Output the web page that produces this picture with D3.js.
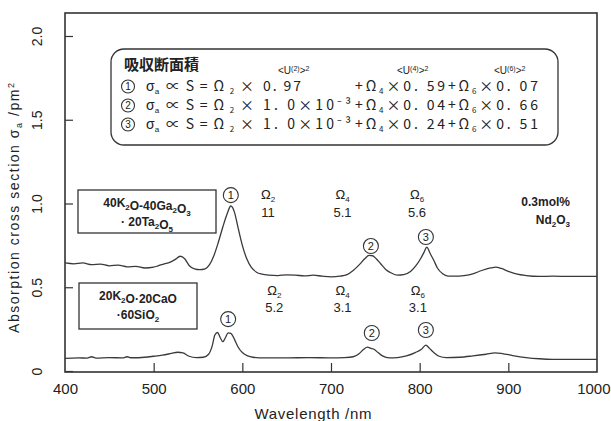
<!DOCTYPE html>
<html><head><meta charset="utf-8">
<script src="https://cdn.jsdelivr.net/npm/d3@7"></script>
<style>
html,body{margin:0;padding:0;background:#fff;}
svg{display:block;font-family:"Liberation Sans",Arial,sans-serif;}
</style></head>
<body><svg id="c" width="611" height="421"></svg>
<script>
// ---- data ----
const upperWl  = [400,410,420,430,440,450,460,470,480,490,500,505,512,518,524,530,535,540,546,552,558,563,568,573,578,583,587,591,595,600,605,610,616,622,630,640,650,660,670,680,690,700,710,718,725,732,738,743,747,751,756,762,768,775,782,790,796,801,805,808,812,816,820,826,832,840,850,860,870,880,886,892,900,910,920,935,950,970,1000];
const upperVal = [0.645,0.64,0.645,0.635,0.638,0.628,0.632,0.622,0.625,0.615,0.62,0.628,0.64,0.648,0.665,0.685,0.67,0.63,0.61,0.605,0.61,0.635,0.69,0.77,0.86,0.94,0.985,0.95,0.86,0.75,0.67,0.62,0.59,0.578,0.572,0.57,0.574,0.572,0.568,0.572,0.566,0.562,0.566,0.575,0.6,0.635,0.67,0.69,0.688,0.67,0.64,0.605,0.585,0.572,0.575,0.595,0.63,0.67,0.71,0.74,0.7,0.66,0.615,0.58,0.567,0.566,0.57,0.58,0.6,0.615,0.62,0.612,0.595,0.578,0.57,0.565,0.566,0.565,0.565];
const lowerWl  = [400,415,425,430,435,450,465,470,475,490,500,510,520,527,533,540,548,556,562,566,569,572,575,578,581,584,587,591,595,600,606,612,625,650,675,700,715,725,732,737,741,745,749,753,758,766,775,785,795,802,807,811,816,822,830,845,860,875,885,893,905,920,935,950,1000];
const lowerVal = [0.075,0.078,0.077,0.085,0.077,0.08,0.078,0.085,0.079,0.082,0.088,0.095,0.105,0.112,0.108,0.088,0.08,0.082,0.1,0.15,0.215,0.23,0.2,0.175,0.2,0.228,0.225,0.19,0.145,0.11,0.09,0.082,0.078,0.078,0.08,0.078,0.08,0.085,0.105,0.13,0.142,0.135,0.128,0.11,0.09,0.078,0.08,0.09,0.11,0.13,0.155,0.135,0.11,0.088,0.08,0.082,0.09,0.1,0.108,0.104,0.092,0.08,0.073,0.07,0.07];
const xTicks = [400,500,600,700,800,900,1000];
const yTicks = [0,0.5,1.0,1.5,2.0];
const yTickLabels = ["0","0.5","1.0","1.5","2.0"];
// peak markers (circled numbers)
const markNums = [1,2,3,1,2,3];
const markWl   = [587,745,807,584,746,807];
const markVal  = [1.05,0.746,0.80,0.31,0.227,0.245];
// Judd-Ofelt parameters
const omegaIdx = ["2","4","6"];
const omegaWlUpper = [629,713,797];
const omegaUpper   = ["11","5.1","5.6"];
const omegaWlLower = [636,713,798];
const omegaLower   = ["5.2","3.1","3.1"];
// inset rows
const rowNums = [1,2,3];
const rowCoef2 = ["0. 97","1. 0×10⁻³","1. 0×10⁻³"];
const rowCoef4 = ["0. 59","0. 04","0. 24"];
const rowCoef6 = ["0. 07","0. 66","0. 51"];

// ---- layout ----
const svg = d3.select("#c");
const L=65,R=597,T=13,B=372;
const x = d3.scaleLinear().domain([400,1000]).range([L,R]);
const y = d3.scaleLinear().domain([0,2]).range([371,36]);
const ink = "#333";
const jp = "'Noto Sans CJK JP','Liberation Sans',sans-serif";

// frame
svg.append("rect").attr("x",L).attr("y",T).attr("width",R-L).attr("height",B-T)
  .attr("fill","none").attr("stroke",ink).attr("stroke-width",1.6);

// x axis ticks (inside)
const gx = svg.append("g").attr("transform",`translate(0,${B})`)
  .call(d3.axisBottom(x).tickValues(xTicks).tickSize(-9).tickPadding(14).tickFormat(d3.format("d")));
gx.select(".domain").remove();
gx.selectAll(".tick line").attr("stroke",ink).attr("stroke-width",1.2)
  .filter(d=>d===400||d===1000).remove();
gx.selectAll("text").attr("fill","#222").attr("font-size",15).attr("dy","0.5em");
gx.selectAll(".tick").filter(d=>d===1000).select("text")
  .attr("text-anchor","end").attr("x",610-R);

// y axis ticks (inside), labels rotated
const gy = svg.append("g").attr("transform",`translate(${L},0)`)
  .call(d3.axisLeft(y).tickValues(yTicks).tickSize(-8).tickFormat((d,i)=>yTickLabels[i]));
gy.select(".domain").remove();
gy.selectAll(".tick line").attr("stroke",ink).attr("stroke-width",1.2);
gy.selectAll("text").attr("fill","#222").attr("font-size",14)
  .attr("x",null).attr("dy",null)
  .attr("text-anchor","middle")
  .attr("transform","translate(-28,0) rotate(-90)")
  .attr("dominant-baseline","central");

// axis titles
svg.append("text").attr("x",313).attr("y",419).attr("text-anchor","middle")
  .attr("font-size",15).attr("fill","#222").attr("textLength",117)
  .text("Wavelength /nm");
const yt = svg.append("text").attr("transform","translate(19,208) rotate(-90)")
  .attr("text-anchor","middle").attr("font-size",14).attr("fill","#222").attr("textLength",250);
yt.append("tspan").text("Absorption cross section σ");
yt.append("tspan").attr("font-size",9).attr("dy",3).text("a");
yt.append("tspan").attr("dy",-3).text(" /pm");
yt.append("tspan").attr("font-size",9).attr("dy",-5).text("2");

// spectra
const line = d3.line().x(d=>x(d[0])).y(d=>y(d[1])).curve(d3.curveMonotoneX);
svg.append("path").datum(d3.zip(upperWl,upperVal)).attr("d",line)
  .attr("fill","none").attr("stroke","#3a3a3a").attr("stroke-width",1.3);
svg.append("path").datum(d3.zip(lowerWl,lowerVal)).attr("d",line)
  .attr("fill","none").attr("stroke","#3a3a3a").attr("stroke-width",1.3);

// circled number helper
function circ(g,cx,cy,n,r,fs){
  g.append("circle").attr("cx",cx).attr("cy",cy).attr("r",r)
    .attr("fill","#fff").attr("stroke",ink).attr("stroke-width",1.1);
  g.append("text").attr("x",cx).attr("y",cy).attr("text-anchor","middle")
    .attr("dominant-baseline","central").attr("font-size",fs).attr("fill","#222").text(n);
}
markNums.forEach((n,i)=>circ(svg,x(markWl[i]),y(markVal[i]),n,7.5,11));

// omega labels
omegaIdx.forEach((k,i)=>{
  const t1 = svg.append("text").attr("x",x(omegaWlUpper[i])).attr("y",199).attr("text-anchor","middle")
    .attr("font-size",13).attr("fill","#222");
  t1.append("tspan").text("Ω"); t1.append("tspan").attr("font-size",8).attr("dy",3).text(k);
  svg.append("text").attr("x",x(omegaWlUpper[i])).attr("y",217).attr("text-anchor","middle")
    .attr("font-size",13).attr("fill","#222").text(omegaUpper[i]);
  const t2 = svg.append("text").attr("x",x(omegaWlLower[i])).attr("y",295).attr("text-anchor","middle")
    .attr("font-size",13).attr("fill","#222");
  t2.append("tspan").text("Ω"); t2.append("tspan").attr("font-size",8).attr("dy",3).text(k);
  svg.append("text").attr("x",x(omegaWlLower[i])).attr("y",312).attr("text-anchor","middle")
    .attr("font-size",13).attr("fill","#222").text(omegaLower[i]);
});

// concentration note
const cn = svg.append("g").attr("font-size",12).attr("font-weight","bold").attr("fill","#222");
cn.append("text").attr("x",570).attr("y",206).attr("text-anchor","end").text("0.3mol%");
const nd = cn.append("text").attr("x",570).attr("y",224).attr("text-anchor","end");
nd.append("tspan").text("Nd"); nd.append("tspan").attr("font-size",8).attr("dy",3).text("2");
nd.append("tspan").attr("dy",-3).text("O"); nd.append("tspan").attr("font-size",8).attr("dy",3).text("3");

// composition boxes
function compBox(bx,by,bw,bh,lines){
  svg.append("rect").attr("x",bx).attr("y",by).attr("width",bw).attr("height",bh)
    .attr("fill","#fff").attr("stroke",ink).attr("stroke-width",1.3);
  lines.forEach((parts,j)=>{
    const t = svg.append("text").attr("x",bx+bw/2).attr("y",by+17+j*19).attr("text-anchor","middle")
      .attr("font-size",12).attr("font-weight","bold").attr("fill","#222");
    parts.forEach(p=>{
      if(p[1]) { t.append("tspan").attr("font-size",8).attr("dy",3).text(p[0]); t.append("tspan").attr("dy",-3).text(""); }
      else t.append("tspan").text(p[0]);
    });
  });
}
compBox(78,190,138,43,[
  [["40K"],["2",1],["O-40Ga"],["2",1],["O"],["3",1]],
  [["· 20Ta"],["2",1],["O"],["5",1]]
]);
compBox(79,283,118,46,[
  [["20K"],["2",1],["O·20CaO"]],
  [["·60SiO"],["2",1]]
]);

// inset equation box
svg.append("rect").attr("x",111).attr("y",49).attr("width",447).attr("height",96)
  .attr("rx",13).attr("fill","#fff").attr("stroke",ink).attr("stroke-width",1.3);
svg.append("text").attr("x",124).attr("y",70).attr("font-family",jp)
  .attr("font-size",15).attr("font-weight","bold").attr("fill","#222").text("吸収断面積");
const supX = [278,397,494];
["2","4","6"].forEach((k,i)=>{
  const t = svg.append("text").attr("x",supX[i]).attr("y",74).attr("font-size",10).attr("fill","#222");
  t.append("tspan").text("<U");
  t.append("tspan").attr("font-size",7).attr("dy",-3).text("("+k+")");
  t.append("tspan").attr("dy",3).text(">");
  t.append("tspan").attr("font-size",7).attr("dy",-3).text("2");
});
const rowY = [91,110,129];
rowNums.forEach((n,i)=>{
  const ry = rowY[i];
  circ(svg,128,ry-4.5,n,6.5,10);
  const s = svg.append("text").attr("x",146).attr("y",ry).attr("font-size",14).attr("fill","#222");
  s.append("tspan").text("σ"); s.append("tspan").attr("font-size",8).attr("dy",3).text("a");
  const e = svg.append("text").attr("x",166).attr("y",ry).attr("font-family",jp).attr("font-size",14).attr("fill","#222")
    .attr("textLength",88).attr("lengthAdjust","spacing");
  e.append("tspan").text("∝S=Ω"); e.append("tspan").attr("font-size",8).attr("dy",3).text("2");
  e.append("tspan").attr("dy",-3).text("×");
  const c2 = svg.append("text").attr("x",263).attr("y",ry).attr("font-family",jp).attr("font-size",14).attr("fill","#222");
  if(i===0) c2.attr("textLength",38).text(rowCoef2[i]);
  else c2.attr("textLength",88).text(rowCoef2[i]);
  const r4 = svg.append("text").attr("x",355).attr("y",ry).attr("font-family",jp).attr("font-size",14).attr("fill","#222")
    .attr("textLength",183).attr("lengthAdjust","spacing");
  r4.append("tspan").text("+Ω"); r4.append("tspan").attr("font-size",8).attr("dy",3).text("4");
  r4.append("tspan").attr("dy",-3).text("×"+rowCoef4[i]+"+Ω");
  r4.append("tspan").attr("font-size",8).attr("dy",3).text("6");
  r4.append("tspan").attr("dy",-3).text("×"+rowCoef6[i]);
});
</script></body></html>
